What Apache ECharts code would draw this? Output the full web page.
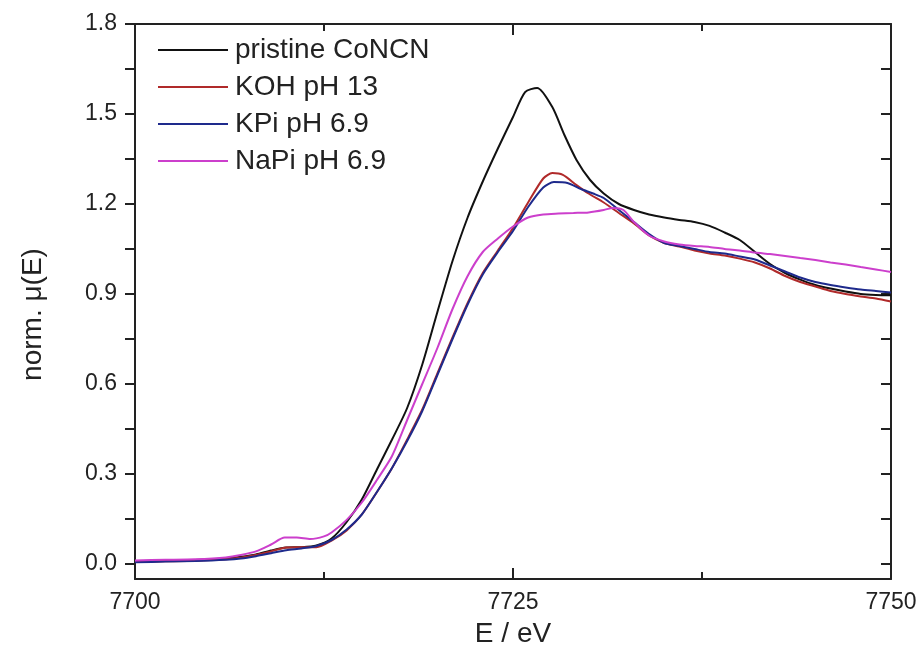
<!DOCTYPE html>
<html>
<head>
<meta charset="utf-8">
<script src="https://cdn.jsdelivr.net/npm/echarts@6/dist/echarts.min.js"></script>
<style>
html,body{margin:0;padding:0;background:#fff;}
#chart{width:921px;height:661px;}
</style>
</head>
<body>
<div id="chart"></div>
<script>
// ---- data ----
const seriesNames = ['pristine CoNCN', 'KOH pH 13', 'KPi pH 6.9', 'NaPi pH 6.9'];

const pristineE = [7700,7702,7704,7706,7707,7708,7709,7710,7711,7712,7713,7714,7715,7716,7717,7718,7719,7720,7721,7722,7723,7724,7725,7725.8,7726.6,7727.6,7728.4,7729.2,7730.1,7731,7732,7733,7734,7735,7736,7737,7738,7739,7740,7741,7742,7743,7744,7745,7746,7747,7748,7749,7750];
const pristineMu = [0.008,0.010,0.013,0.018,0.024,0.032,0.045,0.055,0.056,0.062,0.085,0.14,0.215,0.315,0.415,0.52,0.665,0.84,1.01,1.155,1.275,1.385,1.49,1.573,1.587,1.523,1.43,1.347,1.28,1.235,1.20,1.18,1.165,1.155,1.147,1.14,1.127,1.105,1.08,1.04,1.00,0.97,0.948,0.93,0.918,0.908,0.90,0.897,0.896];

const kohE = [7700,7702,7704,7706,7707,7708,7709,7710,7711,7712,7713,7714,7715,7716,7717,7718,7719,7720,7721,7722,7723,7724,7725,7726,7727,7727.6,7728.3,7729.2,7730,7731,7732,7733,7734,7735,7736,7737,7738,7739,7740,7741,7742,7743,7744,7745,7746,7747,7748,7749,7750];
const kohMu = [0.007,0.009,0.011,0.016,0.021,0.030,0.042,0.055,0.056,0.056,0.078,0.112,0.165,0.24,0.32,0.415,0.515,0.635,0.755,0.87,0.97,1.045,1.12,1.205,1.285,1.303,1.297,1.263,1.235,1.205,1.17,1.135,1.095,1.07,1.058,1.045,1.035,1.028,1.018,1.005,0.985,0.96,0.94,0.925,0.91,0.90,0.892,0.885,0.875];

const kpiE = [7700,7702,7704,7706,7707,7708,7709,7710,7711,7712,7713,7714,7715,7716,7717,7718,7719,7720,7721,7722,7723,7724,7725,7726,7727,7727.7,7728.6,7729.5,7730.3,7731,7732,7733,7734,7735,7736,7737,7738,7739,7740,7741,7742,7743,7744,7745,7746,7747,7748,7749,7750];
const kpiMu = [0.006,0.008,0.010,0.014,0.018,0.026,0.036,0.046,0.052,0.060,0.080,0.115,0.165,0.24,0.32,0.41,0.51,0.63,0.75,0.865,0.965,1.04,1.11,1.19,1.255,1.273,1.27,1.25,1.235,1.22,1.18,1.14,1.10,1.07,1.06,1.05,1.04,1.035,1.025,1.015,0.995,0.975,0.955,0.94,0.93,0.922,0.915,0.91,0.905];

const napiE = [7700,7702,7704,7706,7707,7708,7709,7709.9,7710.7,7711.6,7712.5,7713,7714,7715,7716,7717,7718,7719,7720,7721,7722,7723,7724,7725,7726,7727,7728,7729,7730,7731,7731.6,7732.3,7733,7734,7735,7736,7737,7738,7739,7740,7741,7742,7743,7744,7745,7746,7747,7748,7749,7750];
const napiMu = [0.012,0.014,0.016,0.022,0.030,0.042,0.065,0.088,0.088,0.083,0.092,0.105,0.147,0.205,0.28,0.36,0.48,0.60,0.72,0.85,0.96,1.04,1.085,1.125,1.155,1.165,1.168,1.17,1.172,1.18,1.187,1.18,1.14,1.095,1.075,1.065,1.06,1.057,1.05,1.045,1.038,1.033,1.027,1.02,1.013,1.005,0.998,0.99,0.982,0.973];

const xTickLabels = [7700, 7725, 7750];
const yTickValues = [0,0.15,0.3,0.45,0.6,0.75,0.9,1.05,1.2,1.35,1.5,1.65,1.8];
const yLabelValues = [0,0.3,0.6,0.9,1.2,1.5,1.8];

const colors = ['#111111', '#b02a2a', '#1e2a8c', '#cc3fcc'];

// ---- chart ----
const pair = (xs, ys) => xs.map((x, i) => [x, ys[i]]);
const allData = [pair(pristineE, pristineMu), pair(kohE, kohMu), pair(kpiE, kpiMu), pair(napiE, napiMu)];

const FONT = '"Liberation Sans", Arial, sans-serif';
const TXT = '#222';
const axisLine = {show: true, onZero: false, lineStyle: {color: '#222', width: 2}};

const chart = echarts.init(document.getElementById('chart'), null, {renderer: 'canvas'});
chart.setOption({
  backgroundColor: '#fff',
  animation: false,
  textStyle: {fontFamily: FONT},
  grid: {left: 135, right: 30, top: 24, bottom: 82, containLabel: false},
  legend: {
    orient: 'vertical',
    left: 153,
    top: 31,
    itemWidth: 70,
    itemHeight: 14,
    itemGap: 9,
    icon: 'path://M0,0 L70,0 L70,2 L0,2 Z',
    textStyle: {fontFamily: FONT, fontSize: 28, color: TXT, lineHeight: 27, padding: [0,0,0,2]},
    data: seriesNames
  },
  xAxis: [{
    type: 'value', position: 'bottom', min: 7700, max: 7750, interval: 25,
    axisLine: axisLine,
    axisTick: {show: true, inside: true, length: 11, lineStyle: {color: '#222', width: 2}},
    minorTick: {show: true, splitNumber: 2, length: 7, lineStyle: {color: '#222', width: 2}},
    axisLabel: {
      show: true, margin: 12, fontSize: 23, color: TXT, fontFamily: FONT,
      formatter: v => xTickLabels.indexOf(Math.round(v)) >= 0 ? String(Math.round(v)) : ''
    },
    splitLine: {show: false},
    name: 'E / eV', nameLocation: 'middle', nameGap: 41,
    nameTextStyle: {fontSize: 28, color: TXT, fontFamily: FONT}
  }, {
    type: 'value', position: 'top', min: 7700, max: 7750, interval: 25,
    axisLine: axisLine,
    axisTick: {show: true, inside: true, length: 11, lineStyle: {color: '#222', width: 2}},
    minorTick: {show: true, splitNumber: 2, length: 7, lineStyle: {color: '#222', width: 2}},
    axisLabel: {show: false},
    splitLine: {show: false}
  }],
  yAxis: [{
    type: 'value', position: 'left', min: -0.05, max: 1.8,
    axisLine: axisLine,
    axisTick: {show: true, inside: false, length: 10, customValues: yTickValues, lineStyle: {color: '#222', width: 2}},
    axisLabel: {
      show: true, margin: 18, fontSize: 23, color: TXT, fontFamily: FONT,
      customValues: yLabelValues,
      formatter: v => Number(v).toFixed(1)
    },
    splitLine: {show: false},
    name: 'norm. \u03bc(E)', nameLocation: 'middle', nameGap: 88, nameRotate: 90,
    nameTextStyle: {fontSize: 28, color: TXT, fontFamily: FONT, padding: [0, 26, 0, 0]}
  }, {
    type: 'value', position: 'right', min: -0.05, max: 1.8,
    axisLine: axisLine,
    axisTick: {show: true, inside: true, length: 10, customValues: yTickValues, lineStyle: {color: '#222', width: 2}},
    axisLabel: {show: false},
    splitLine: {show: false}
  }],
  series: seriesNames.map((name, i) => ({
    name: name,
    type: 'line',
    xAxisIndex: 0,
    yAxisIndex: 0,
    data: allData[i],
    symbol: 'none',
    smooth: 0.25,
    color: colors[i],
    lineStyle: {color: colors[i], width: 2},
    z: 2 + i
  }))
});
</script>
</body>
</html>
